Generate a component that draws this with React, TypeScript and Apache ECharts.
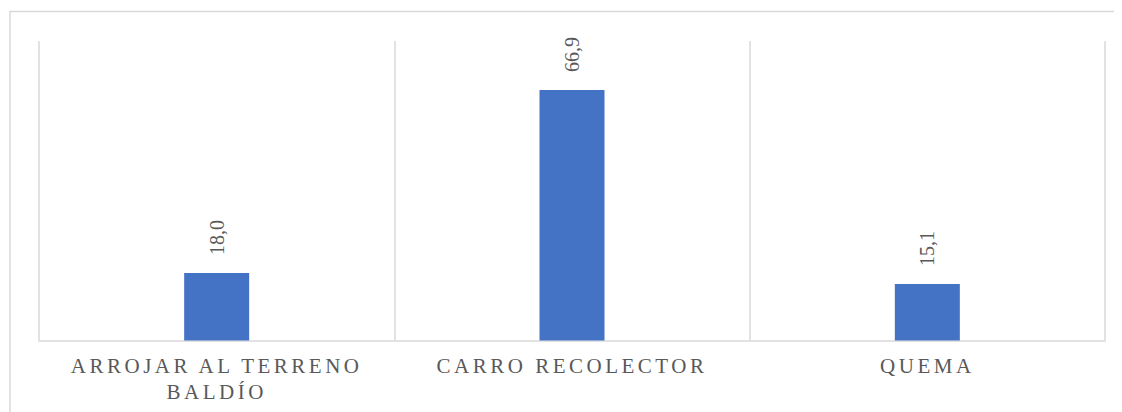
import React, { useEffect, useRef } from "react";
import * as echarts from "echarts";

const categories = ["ARROJAR AL TERRENO\nBALDÍO", "CARRO RECOLECTOR", "QUEMA"];
const values = [18.0, 66.9, 15.1];

const fmt = (v: number) => v.toFixed(1).replace(".", ",");
const SERIF = "'Liberation Serif', 'Times New Roman', serif";

export default function App() {
  const ref = useRef<HTMLDivElement>(null);
  useEffect(() => {
    if (!ref.current) return;
    const chart = echarts.init(ref.current, undefined, { renderer: "svg" });
    chart.setOption({
      animation: false,
      backgroundColor: "#ffffff",
      graphic: [
        {
          type: "rect",
          shape: { x: 2, y: 3.5, width: 1300, height: 600 },
          style: { fill: "none", stroke: "#d9d9d9", lineWidth: 1.5 },
          silent: true,
          z: -1,
        },
      ],
      grid: { left: 31, right: 17, top: 33, bottom: 71.5 },
      xAxis: {
        type: "category",
        data: categories,
        axisTick: { show: false },
        axisLine: { lineStyle: { color: "#d9d9d9", width: 1.5 } },
        splitLine: { show: true, interval: 0, lineStyle: { color: "#d9d9d9", width: 1.5 } },
        axisLabel: {
          interval: 0,
          color: "#595959",
          fontFamily: SERIF,
          fontSize: 21,
          lineHeight: 26,
          margin: 12,
        },
      },
      yAxis: {
        type: "value",
        min: 0,
        max: 80,
        show: false,
        splitLine: { show: false },
      },
      series: [
        {
          type: "bar",
          data: values,
          barWidth: 65,
          itemStyle: { color: "#4472c4" },
          label: {
            show: true,
            position: "top",
            rotate: 90,
            align: "left",
            verticalAlign: "middle",
            distance: 18,
            color: "#595959",
            fontFamily: SERIF,
            fontSize: 20,
            formatter: (p: any) => fmt(p.value),
          },
        },
      ],
    });
    return () => chart.dispose();
  }, []);
  return (
    <>
      <style>{`#root text[style*="21px"] { letter-spacing: 3.5px; }`}</style>
      <div ref={ref} style={{ width: 1114, height: 404 }} />
    </>
  );
}
